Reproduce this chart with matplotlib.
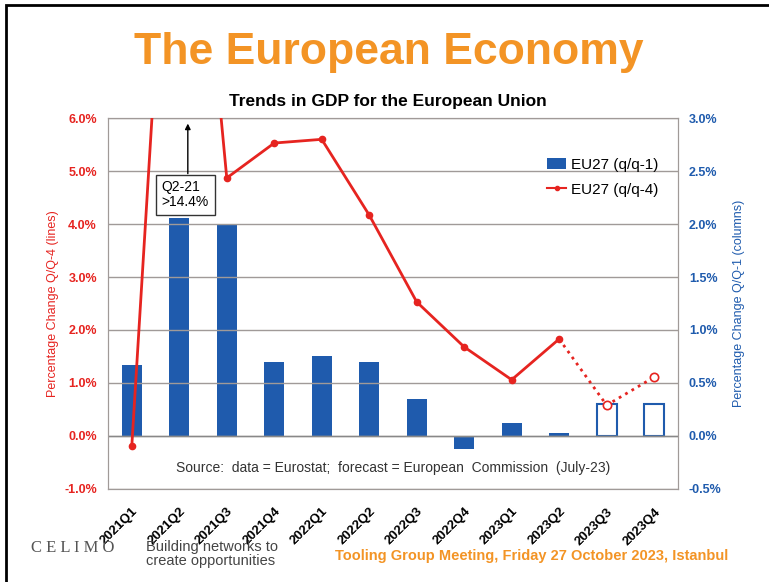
import numpy as np
import matplotlib
matplotlib.use('Agg')
import matplotlib.pyplot as plt
from matplotlib.patches import Rectangle, Patch
from matplotlib.lines import Line2D

plt.rcParams['font.family'] = ['Liberation Sans', 'DejaVu Sans']

quarters = ['2021Q1', '2021Q2', '2021Q3', '2021Q4', '2022Q1', '2022Q2',
            '2022Q3', '2022Q4', '2023Q1', '2023Q2', '2023Q3', '2023Q4']
# q/q-1 (columns, right axis); last two are forecasts
qq1 = [0.67, 2.06, 2.00, 0.70, 0.75, 0.70, 0.35, -0.12, 0.12, 0.03, 0.30, 0.30]
# q/q-4 (line, left axis)
qq4 = [-0.19, 14.4, 4.87, 5.53, 5.60, 4.17, 2.53, 1.68, 1.06, 1.83, 0.58, 1.11]
n_actual = 10

red = '#E62420'
blue = '#1F5BAD'
orange = '#F39425'

fig = plt.figure(figsize=(7.69, 5.82), dpi=100)
fig.patches.append(Rectangle((0.008, -0.02), 1.2, 1.011, transform=fig.transFigure,
                             fill=False, edgecolor='black', linewidth=2))

ax = fig.add_axes([0.1405, 0.16, 0.741, 0.637])
ax2 = ax.twinx()
ax.set_zorder(ax2.get_zorder() + 1)
ax.patch.set_visible(False)

x = np.arange(len(quarters))

# columns
ax2.bar(x[:n_actual], qq1[:n_actual], width=0.42, color=blue, zorder=2)
ax2.bar(x[n_actual:], qq1[n_actual:], width=0.42, facecolor='white',
        edgecolor=blue, linewidth=1.5, zorder=2)
ax2.set_ylim(-0.5, 3.0)
ax2.set_yticks(np.arange(-0.5, 3.01, 0.5))
ax2.set_yticklabels(['%.1f%%' % v for v in np.arange(-0.5, 3.01, 0.5)],
                    color=blue, fontweight='bold', fontsize=9)
ax2.set_ylabel('Percentage Change Q/Q-1 (columns)', color=blue, fontsize=9, labelpad=8)

# lines
ax.plot(x[:n_actual], qq4[:n_actual], color=red, linewidth=2, marker='o',
        markersize=4.5, zorder=4)
ax.plot(x[n_actual - 1:], qq4[n_actual - 1:], color=red, linewidth=2, linestyle=':',
        zorder=3)
ax.plot(x[n_actual:], qq4[n_actual:], linestyle='none', marker='o', markersize=6,
        markerfacecolor='white', markeredgecolor=red, markeredgewidth=1.2, zorder=4)
ax.set_ylim(-1, 6)
ax.set_xlim(-0.5, len(quarters) - 0.5)
ax.set_yticks(np.arange(-1, 6.1, 1))
ax.set_yticklabels(['%.1f%%' % v for v in np.arange(-1, 6.1, 1)],
                   color=red, fontweight='bold', fontsize=9)
ax.set_ylabel('Percentage Change Q/Q-4 (lines)', color=red, fontsize=9, labelpad=4)
ax.set_xticks(x)
ax.set_xticklabels(quarters, rotation=45, ha='right', rotation_mode='anchor',
                   fontweight='bold', fontsize=9.5)
ax.yaxis.grid(True, color='#A09A98', linewidth=1)
ax.set_axisbelow(True)
for a in (ax, ax2):
    for s in a.spines.values():
        s.set_color('#A09A98')
    a.tick_params(axis='y', length=0, pad=8)
ax.tick_params(axis='x', length=0, pad=12)
ax.axhline(0, color='#888888', linewidth=1)

# Q2-21 annotation
ax.annotate('', xy=(1.18, 5.95), xytext=(1.18, 4.9),
            arrowprops=dict(arrowstyle='-|>', color='black', lw=1, mutation_scale=8))
ax.text(0.63, 4.55, 'Q2-21\n>14.4%', fontsize=10, va='center', ha='left', zorder=6,
        linespacing=1.1,
        bbox=dict(boxstyle='square,pad=0.4', facecolor='white', edgecolor='#333333'))

handles = [Patch(facecolor=blue, label='EU27 (q/q-1)'),
           Line2D([], [], color=red, marker='o', markersize=3, label='EU27 (q/q-4)')]
ax.legend(handles=handles, loc='upper right', bbox_to_anchor=(0.99, 0.93), frameon=False,
          fontsize=11, handlelength=1.3, handletextpad=0.3, labelspacing=0.7)

ax.text(5.5, -0.6, 'Source:  data = Eurostat;  forecast = European  Commission  (July-23)',
        ha='center', va='center', fontsize=10, color='#333333')

fig.text(0.505, 0.91, 'The European Economy', ha='center', va='center', color=orange,
         fontsize=32, fontweight='bold')
fig.text(0.505, 0.826, 'Trends in GDP for the European Union', ha='center', va='center',
         fontsize=12.5, fontweight='bold')
fig.text(0.947, 0.045, 'Tooling Group Meeting, Friday 27 October 2023, Istanbul',
         ha='right', va='center', color=orange, fontsize=10.5, fontweight='bold')
fig.text(0.04, 0.058, 'C E L I M O', ha='left', va='center', color='#555555',
         fontsize=12, family='Liberation Serif')
fig.text(0.19, 0.048, 'Building networks to\ncreate opportunities', ha='left', va='center',
         color='#444444', fontsize=10.5, linespacing=1.0)

fig.savefig('out.png', dpi=100)
